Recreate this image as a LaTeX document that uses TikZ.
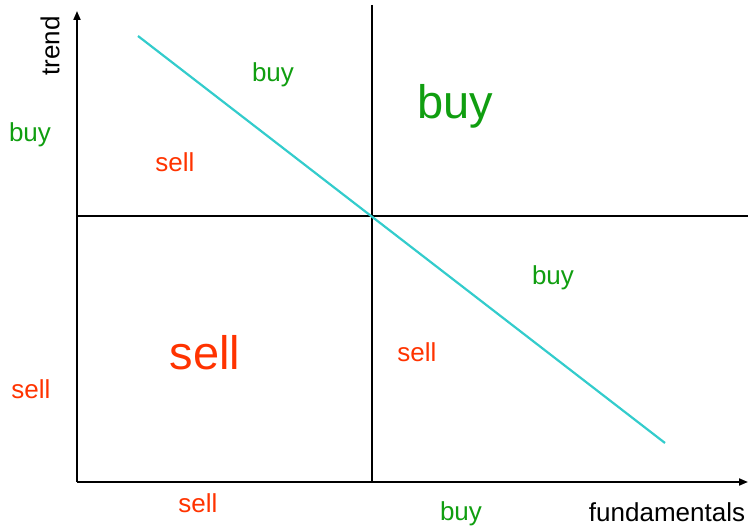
\documentclass[tikz,border=0pt]{standalone}
\usepackage{fontspec}
\setmainfont{Liberation Sans}
\usetikzlibrary{arrows.meta,positioning}
\definecolor{Axis}{HTML}{000000}
\definecolor{Diag}{HTML}{33CCCC}
\definecolor{Buy}{HTML}{109E10}
\definecolor{Sell}{HTML}{FF3300}

\begin{document}
\begin{tikzpicture}[
 x=1pt,y=-1pt,
 ax/.style={draw=Axis,line width=1.9pt,-{Triangle[length=9pt,width=7pt]}},
 ln/.style={draw=Axis,line width=1.9pt},
 dg/.style={draw=Diag,line width=2.2pt},
 lbl/.style={inner sep=0pt,font=\fontsize{26}{30}\selectfont},
 b/.style={lbl,text=Buy},
 s/.style={lbl,text=Sell},
 bb/.style={b,font=\fontsize{47}{52}\selectfont},
 sb/.style={s,font=\fontsize{47}{52}\selectfont}
]
\useasboundingbox (0,0) rectangle (748,527);
\coordinate (o) at (77,482);
\coordinate (ytop) at (77,11);
\coordinate (xend) at (748,482);
\coordinate (vtop) at (372,5);
\coordinate (hl) at (77,216);
\coordinate (hr) at (748,216);
\coordinate (d1) at (138,36);
\coordinate (d2) at (665,443);
\draw[ln] (hl)--(hr);\draw[ln] (vtop)--(vtop|-o);
\draw[ax] (o)--(ytop);\draw[ax] (o)--(xend);
\draw[dg] (d1)--(d2);
\node[lbl,rotate=90] (ttl) at (50,46) {trend};
\node[lbl] (ftl) at (667,512) {fundamentals};
\node[b] (b1) at (273,75) {buy};
\node[bb] (b2) at (455,106) {buy};
\node[b] (b3) at (30,135) {buy};
\node[s] (s1) at (175,162) {sell};
\node[b] (b4) at (553,278) {buy};
\node[sb] (s2) at (205,353) {sell};
\node[s] (s3) at (417,352) {sell};
\node[s] (s4) at (31,389) {sell};
\node[s] (s5) at (198,503) {sell};
\node[b] (b5) at (461,514) {buy};
\end{tikzpicture}
\end{document}
